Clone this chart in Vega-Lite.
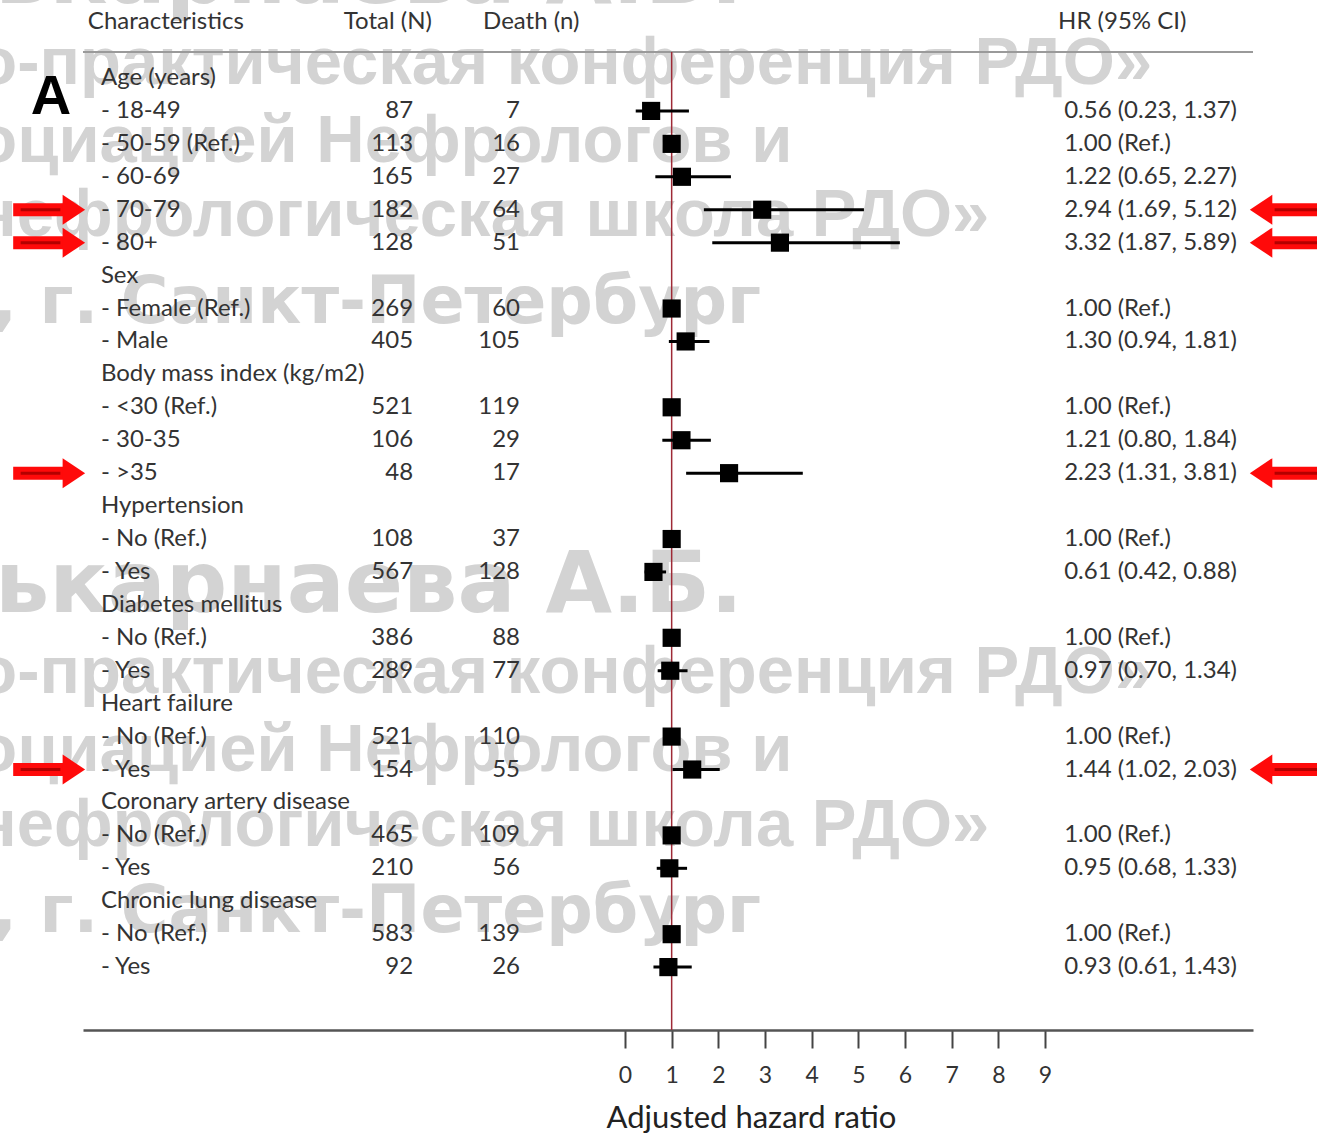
{
  "$schema": "https://vega.github.io/schema/vega-lite/v6.json",
  "autosize": {"type": "none"},
  "width": 1170,
  "height": 1030,
  "padding": {"left": 83, "right": 64, "top": 0, "bottom": 104},
  "background": "white",
  "config": {"view": {"stroke": null}, "text": {"font": "Lato", "fontSize": 24, "color": "#333333"}},
  "datasets": {
    "rows": [
      {"r": 0, "label": "Age (years)"},
      {"r": 1, "label": "- 18-49", "n": "87", "d": "7", "hr": 0.56, "lo": 0.23, "hi": 1.37, "ci": "0.56 (0.23, 1.37)"},
      {"r": 2, "label": "- 50-59 (Ref.)", "n": "113", "d": "16", "hr": 1.0, "ci": "1.00 (Ref.)"},
      {"r": 3, "label": "- 60-69", "n": "165", "d": "27", "hr": 1.22, "lo": 0.65, "hi": 2.27, "ci": "1.22 (0.65, 2.27)"},
      {"r": 4, "label": "- 70-79", "n": "182", "d": "64", "hr": 2.94, "lo": 1.69, "hi": 5.12, "ci": "2.94 (1.69, 5.12)", "flag": true},
      {"r": 5, "label": "- 80+", "n": "128", "d": "51", "hr": 3.32, "lo": 1.87, "hi": 5.89, "ci": "3.32 (1.87, 5.89)", "flag": true},
      {"r": 6, "label": "Sex"},
      {"r": 7, "label": "- Female (Ref.)", "n": "269", "d": "60", "hr": 1.0, "ci": "1.00 (Ref.)"},
      {"r": 8, "label": "- Male", "n": "405", "d": "105", "hr": 1.3, "lo": 0.94, "hi": 1.81, "ci": "1.30 (0.94, 1.81)"},
      {"r": 9, "label": "Body mass index (kg/m2)"},
      {"r": 10, "label": "- <30 (Ref.)", "n": "521", "d": "119", "hr": 1.0, "ci": "1.00 (Ref.)"},
      {"r": 11, "label": "- 30-35", "n": "106", "d": "29", "hr": 1.21, "lo": 0.8, "hi": 1.84, "ci": "1.21 (0.80, 1.84)"},
      {"r": 12, "label": "- >35", "n": "48", "d": "17", "hr": 2.23, "lo": 1.31, "hi": 3.81, "ci": "2.23 (1.31, 3.81)", "flag": true},
      {"r": 13, "label": "Hypertension"},
      {"r": 14, "label": "- No (Ref.)", "n": "108", "d": "37", "hr": 1.0, "ci": "1.00 (Ref.)"},
      {"r": 15, "label": "- Yes", "n": "567", "d": "128", "hr": 0.61, "lo": 0.42, "hi": 0.88, "ci": "0.61 (0.42, 0.88)"},
      {"r": 16, "label": "Diabetes mellitus"},
      {"r": 17, "label": "- No (Ref.)", "n": "386", "d": "88", "hr": 1.0, "ci": "1.00 (Ref.)"},
      {"r": 18, "label": "- Yes", "n": "289", "d": "77", "hr": 0.97, "lo": 0.7, "hi": 1.34, "ci": "0.97 (0.70, 1.34)"},
      {"r": 19, "label": "Heart failure"},
      {"r": 20, "label": "- No (Ref.)", "n": "521", "d": "110", "hr": 1.0, "ci": "1.00 (Ref.)"},
      {"r": 21, "label": "- Yes", "n": "154", "d": "55", "hr": 1.44, "lo": 1.02, "hi": 2.03, "ci": "1.44 (1.02, 2.03)", "flag": true},
      {"r": 22, "label": "Coronary artery disease"},
      {"r": 23, "label": "- No (Ref.)", "n": "465", "d": "109", "hr": 1.0, "ci": "1.00 (Ref.)"},
      {"r": 24, "label": "- Yes", "n": "210", "d": "56", "hr": 0.95, "lo": 0.68, "hi": 1.33, "ci": "0.95 (0.68, 1.33)"},
      {"r": 25, "label": "Chronic lung disease"},
      {"r": 26, "label": "- No (Ref.)", "n": "583", "d": "139", "hr": 1.0, "ci": "1.00 (Ref.)"},
      {"r": 27, "label": "- Yes", "n": "92", "d": "26", "hr": 0.93, "lo": 0.61, "hi": 1.43, "ci": "0.93 (0.61, 1.43)"}
    ],
    "watermark": [
      {"t": "ькарнаева А.Б.", "k": "big", "p": -2.278},
      {"t": "о-практическая конференция РДО»", "k": "a", "p": 0.182},
      {"t": "оциацией Нефрологов и", "k": "a", "p": 2.551},
      {"t": "нефрологическая школа РДО»", "k": "a", "p": 4.798},
      {"t": ", г. Санкт-Петербург", "k": "d", "p": 7.44},
      {"t": "ькарнаева А.Б.", "k": "big", "p": 16.216},
      {"t": "о-практическая конференция РДО»", "k": "a", "p": 18.676},
      {"t": "оциацией Нефрологов и", "k": "a", "p": 21.044},
      {"t": "нефрологическая школа РДО»", "k": "a", "p": 23.322},
      {"t": ", г. Санкт-Петербург", "k": "d", "p": 25.934}
    ],
    "headers": [
      {"t": "Characteristics", "c": -11.51, "al": "left"},
      {"t": "Total (N)", "c": -5.08, "al": "center"},
      {"t": "Death (n)", "c": -2.01, "al": "center"},
      {"t": "HR (95% CI)", "c": 9.28, "al": "left"}
    ]
  },
  "layer": [
    {"data": {"name": "watermark"}, "transform": [{"filter": "datum.k === 'big'"}],
     "mark": {"type": "text", "font": "DejaVu Sans", "fontWeight": "bold", "fontSize": 86, "align": "left", "baseline": "alphabetic", "color": "#d3d3d3"},
     "encoding": {"text": {"field": "t"}, "x": {"datum": -13.5},
       "y": {"field": "p", "type": "quantitative", "scale": {"domain": [-2.3687, 28.91], "reverse": true, "nice": false, "zero": false}, "axis": null}}},
    {"data": {"name": "watermark"}, "transform": [{"filter": "datum.k === 'a'"}],
     "mark": {"type": "text", "font": "Liberation Sans", "fontWeight": "bold", "fontSize": 67, "align": "left", "baseline": "alphabetic", "color": "#d3d3d3"},
     "encoding": {"text": {"field": "t"}, "x": {"datum": -13.9}, "y": {"field": "p", "type": "quantitative"}}},
    {"data": {"name": "watermark"}, "transform": [{"filter": "datum.k === 'd'"}],
     "mark": {"type": "text", "font": "DejaVu Sans", "fontWeight": "bold", "fontSize": 65, "align": "left", "baseline": "alphabetic", "color": "#d3d3d3"},
     "encoding": {"text": {"field": "t"}, "x": {"datum": -13.56}, "y": {"field": "p", "type": "quantitative"}}},

    {"data": {"values": [{"p": -0.79}]}, "mark": {"type": "rule", "color": "#9a9a9a", "strokeWidth": 2}, "encoding": {"y": {"field": "p", "type": "quantitative"}}},
    {"data": {"values": [{"p": -0.79, "p2": 28.91, "v": 1}]}, "mark": {"type": "rule", "color": "#9e2a36", "strokeWidth": 1.5},
     "encoding": {"x": {"field": "v", "type": "quantitative"}, "y": {"field": "p", "type": "quantitative"}, "y2": {"field": "p2"}}},

    {"data": {"name": "rows"}, "transform": [{"filter": "isValid(datum.lo)"}], "mark": {"type": "rule", "color": "black", "strokeWidth": 3},
     "encoding": {"y": {"field": "r", "type": "quantitative"},
       "x": {"field": "lo", "type": "quantitative", "scale": {"domain": [-11.614, 13.457], "nice": false, "zero": false},
        "axis": {"orient": "bottom", "values": [0,1,2,3,4,5,6,7,8,9], "grid": false, "domain": true, "domainColor": "#555555", "domainWidth": 2.5,
          "tickColor": "#444444", "tickWidth": 2, "tickSize": 18, "labelFont": "Lato", "labelFontSize": 23, "labelColor": "#333333", "labelBaseline": "middle", "labelPadding": 27,
          "title": "Adjusted hazard ratio", "titleFont": "Lato", "titleFontSize": 31, "titleFontWeight": "normal", "titleColor": "#222222",
          "titleX": 668, "titleY": 88, "titleAlign": "center", "titleBaseline": "middle", "titleAnchor": null}},
       "x2": {"field": "hi"}}},
    {"data": {"name": "rows"}, "transform": [{"filter": "isValid(datum.hr)"}], "mark": {"type": "point", "shape": "square", "filled": true, "color": "black", "opacity": 1, "size": 330},
     "encoding": {"y": {"field": "r", "type": "quantitative"}, "x": {"field": "hr", "type": "quantitative"}}},

    {"data": {"name": "rows"}, "mark": {"type": "text", "align": "left", "baseline": "middle"},
     "encoding": {"y": {"field": "r", "type": "quantitative"}, "x": {"datum": -11.23}, "text": {"field": "label"}}},
    {"data": {"name": "rows"}, "transform": [{"filter": "isValid(datum.n)"}], "mark": {"type": "text", "align": "right", "baseline": "middle"},
     "encoding": {"y": {"field": "r", "type": "quantitative"}, "x": {"datum": -4.54}, "text": {"field": "n"}}},
    {"data": {"name": "rows"}, "transform": [{"filter": "isValid(datum.d)"}], "mark": {"type": "text", "align": "right", "baseline": "middle"},
     "encoding": {"y": {"field": "r", "type": "quantitative"}, "x": {"datum": -2.25}, "text": {"field": "d"}}},
    {"data": {"name": "rows"}, "transform": [{"filter": "isValid(datum.ci)"}], "mark": {"type": "text", "align": "left", "baseline": "middle"},
     "encoding": {"y": {"field": "r", "type": "quantitative"}, "x": {"datum": 9.41}, "text": {"field": "ci"}}},

    {"data": {"name": "headers"}, "transform": [{"filter": "datum.al === 'left'"}], "mark": {"type": "text", "align": "left", "baseline": "middle"},
     "encoding": {"text": {"field": "t"}, "x": {"field": "c", "type": "quantitative"}, "y": {"datum": -1.7}}},
    {"data": {"name": "headers"}, "transform": [{"filter": "datum.al === 'center'"}], "mark": {"type": "text", "align": "center", "baseline": "middle"},
     "encoding": {"text": {"field": "t"}, "x": {"field": "c", "type": "quantitative"}, "y": {"datum": -1.7}}},
    {"data": {"values": [{"t": "A"}]}, "mark": {"type": "text", "align": "center", "baseline": "middle", "font": "Liberation Sans", "fontWeight": "bold", "fontSize": 56, "color": "black"},
     "encoding": {"text": {"field": "t"}, "x": {"datum": -12.3}, "y": {"datum": 0.577}}},

    {"data": {"name": "rows"}, "transform": [{"filter": "datum.flag === true"}], "mark": {"type": "rule", "color": "#ff0a0a", "strokeWidth": 13},
     "encoding": {"y": {"field": "r", "type": "quantitative"}, "x": {"datum": -13.11}, "x2": {"datum": -12.0}}},
    {"data": {"name": "rows"}, "transform": [{"filter": "datum.flag === true"}], "mark": {"type": "rule", "color": "#b40000", "strokeWidth": 3},
     "encoding": {"y": {"field": "r", "type": "quantitative"}, "x": {"datum": -12.95}, "x2": {"datum": -12.1}}},
    {"data": {"name": "rows"}, "transform": [{"filter": "datum.flag === true"}], "mark": {"type": "point", "shape": "M-0.5,-1L1,0L-0.5,1Z", "filled": true, "color": "#ff0a0a", "opacity": 1, "size": 900},
     "encoding": {"y": {"field": "r", "type": "quantitative"}, "x": {"datum": -11.89}}},
    {"data": {"name": "rows"}, "transform": [{"filter": "datum.flag === true"}], "mark": {"type": "rule", "color": "#ff0a0a", "strokeWidth": 13},
     "encoding": {"y": {"field": "r", "type": "quantitative"}, "x": {"datum": 13.82}, "x2": {"datum": 14.9}}},
    {"data": {"name": "rows"}, "transform": [{"filter": "datum.flag === true"}], "mark": {"type": "rule", "color": "#b40000", "strokeWidth": 3},
     "encoding": {"y": {"field": "r", "type": "quantitative"}, "x": {"datum": 13.92}, "x2": {"datum": 14.9}}},
    {"data": {"name": "rows"}, "transform": [{"filter": "datum.flag === true"}], "mark": {"type": "point", "shape": "M0.5,-1L-1,0L0.5,1Z", "filled": true, "color": "#ff0a0a", "opacity": 1, "size": 900},
     "encoding": {"y": {"field": "r", "type": "quantitative"}, "x": {"datum": 13.71}}}
  ]
}
